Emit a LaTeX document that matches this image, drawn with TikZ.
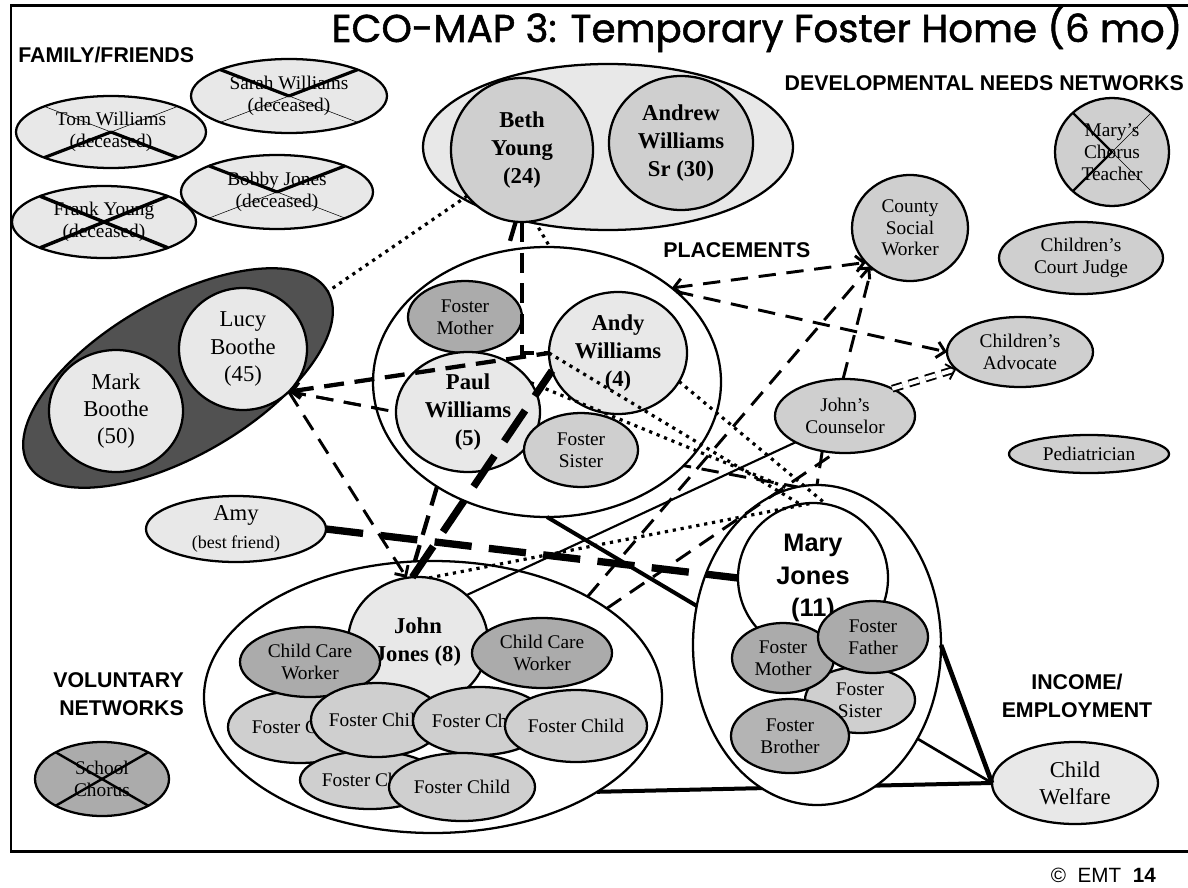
\documentclass[tikz,border=0pt]{standalone}
\usepackage{fontspec}
\usepackage{graphicx}
\setmainfont{Liberation Serif}
\newfontfamily\hdrfont{Liberation Sans}
\newfontfamily\ttlfont{Poppins}[FakeBold=1.3]
\usetikzlibrary{shapes.geometric,arrows.meta}
\pgfdeclarelayer{under}
\pgfsetlayers{under,main}

\definecolor{lite}{HTML}{E8E8E8}
\definecolor{mid}{HTML}{CFCFCF}
\definecolor{drk}{HTML}{ABABAB}
\definecolor{brn}{HTML}{B4B4B4}
\definecolor{vdk}{HTML}{515151}

% font sizes used in the map
\newcommand\fr{\fontsize{14.5}{16.3}\selectfont}
\newcommand\fR{\fontsize{17}{20.5}\selectfont}
\newcommand\fB{\bfseries\fontsize{17}{21}\selectfont}
\newcommand\fM{\hdrfont\bfseries\fontsize{19}{24.5}\selectfont}
\newcommand\fH{\hdrfont\bfseries\fontsize{16}{21.5}\selectfont}

\tikzset{
  eco/.style={ellipse, draw, line width=1.7pt, inner sep=0pt, outer sep=0pt},
  lab/.style={inner sep=0pt, align=center, text=black},
  hdr/.style={font=\fH, inner sep=0pt},
  dA/.style={line width=2.2pt, dash pattern=on 13pt off 8pt},
  dB/.style={line width=3.2pt, dash pattern=on 15pt off 8pt},
  dC/.style={line width=5.5pt, dash pattern=on 28pt off 13pt},
  dt/.style={line width=2.4pt, dash pattern=on 2.4pt off 3.6pt},
  sA/.style={line width=1.6pt},
  sB/.style={line width=3pt},
  >={Straight Barb[length=6pt,width=12pt]},
}

% \nd{name}{x}{y}{rx}{ry}{options}{font}{text}
\newcommand\nd[8]{\node[eco,minimum width=#4*1.5pt,minimum height=#5*1.5pt,#6,label={[lab,font=#7]center:#8}] (#1) at (#2,#3) {};}

% cross out a node: name, angle, widths of the upper-left, upper-right, lower-left, lower-right strokes
\newcommand\xout[6]{%
  \pgfmathtruncatemacro\aUL{180-#2}\pgfmathtruncatemacro\aLL{180+#2}%
  \draw[line width=#3] (#1.center) -- (#1.\aUL);
  \draw[line width=#4] (#1.center) -- (#1.#2);
  \draw[line width=#5] (#1.center) -- (#1.\aLL);
  \draw[line width=#6] (#1.center) -- (#1.-#2);
}

\begin{document}
\begin{tikzpicture}[x=0.75pt,y=-0.75pt]
\useasboundingbox (0,0) rectangle (1188,888);

% frame
\draw[line width=2.2pt] (1188,5.5) -- (11,5.5) -- (11,851.5) -- (1188,851.5);

% title and section headings
\node[anchor=base, inner sep=0pt] (ttl) at (757,42)
  {\resizebox{638pt}{!}{\ttlfont\fontsize{30}{30}\selectfont ECO-MAP 3: Temporary Foster Home (6 mo)}};
\node[hdr, anchor=west] (hfam) at (18,55) {FAMILY/FRIENDS};
\node[hdr, anchor=east] (hdev) at (1184,83) {DEVELOPMENTAL NEEDS NETWORKS};
\node[hdr, anchor=west] (hplc) at (663,250) {PLACEMENTS};
\node[hdr, align=right, anchor=east] (hvol) at (184,694) {VOLUNTARY\\NETWORKS};
\node[hdr, align=center] (hinc) at (1077,696) {INCOME/\\EMPLOYMENT};
\node[anchor=base east, inner sep=0pt] (foot) at (1156,882)
  {\hdrfont\fontsize{15.5}{15.5}\selectfont \copyright\ \ EMT\ \ \textbf{14}};

% family and friends
\nd{sarah}{289}{96}{98}{37}{fill=lite}{\fr}{Sarah Williams\\(deceased)}
\nd{tom}{111}{132}{95}{36}{fill=lite}{\fr}{Tom Williams\\(deceased)}
\nd{bobby}{277}{192}{96}{37}{fill=lite}{\fr}{Bobby Jones\\(deceased)}
\nd{frank}{104}{222}{92}{36}{fill=lite}{\fr}{Frank Young\\(deceased)}
\xout{sarah}{21}{2.4pt}{2.4pt}{0.4pt}{0.4pt}
\xout{tom}{21}{0.4pt}{0.4pt}{2.4pt}{2.4pt}
\xout{bobby}{21}{2.4pt}{2.4pt}{0.4pt}{0.4pt}
\xout{frank}{22}{2.6pt}{2.6pt}{2.6pt}{2.6pt}

% biological parents
\node[eco, fill=lite, minimum width=370*0.75pt, minimum height=166*0.75pt] (pgrp) at (608,147) {};
\nd{beth}{522}{150}{71}{72}{fill=mid}{\fB}{Beth\\Young\\(24)}
\nd{andrew}{681}{143}{72}{67}{fill=mid}{\fB}{Andrew\\Williams\\Sr (30)}

% grandparents
\node[eco, fill=vdk, rotate=30, minimum width=346*0.75pt, minimum height=156*0.75pt] (lgrp) at (178,378) {};
\nd{lucy}{243}{349}{64}{61}{fill=lite}{\fR}{Lucy\\Boothe\\(45)}
\nd{mark}{116}{411}{67}{61}{fill=lite}{\fR}{Mark\\Boothe\\(50)}

% placement of Paul and Andy
\node[eco, fill=white, minimum width=348*0.75pt, minimum height=270*0.75pt] (plc) at (547,382) {};
\nd{fmom}{465}{317}{57}{36}{fill=drk}{\fr}{Foster\\Mother}
\nd{paul}{468}{412}{72}{60}{fill=lite}{\fB}{Paul\\Williams\\(5)}
\nd{andy}{618}{353}{69}{61}{fill=lite}{\fB}{Andy\\Williams\\(4)}
\nd{fsis}{581}{450}{57}{37}{fill=mid}{\fr}{Foster\\Sister}

% developmental needs networks
\nd{csw}{910}{228}{58}{53}{fill=mid}{\fr}{County\\Social\\Worker}
\nd{mct}{1112}{152}{57}{54}{fill=mid}{\fr}{Mary’s\\Chorus\\Teacher}
\xout{mct}{45}{1.8pt}{0.4pt}{1.8pt}{0.4pt}
\nd{ccj}{1081}{258}{82}{36}{fill=mid}{\fr}{Children’s\\Court Judge}
\nd{ca}{1020}{352}{73}{35}{fill=mid}{\fr}{Children’s\\Advocate}
\nd{jc}{845}{416}{70}{37}{fill=mid}{\fr}{John’s\\Counselor}
\nd{ped}{1089}{454}{80}{19}{fill=mid}{\fr}{Pediatrician}

% friend
\nd{amy}{236}{529}{90}{33}{fill=lite}{\fR}{Amy\\{\fontsize{13.5}{15}\selectfont(best friend)}}

% group home of John
\node[eco, fill=white, minimum width=458*0.75pt, minimum height=272*0.75pt] (jgrp) at (433,697) {};
\nd{john}{418}{642}{70}{65}{fill=lite}{\fB}{John\\Jones (8)}
\nd{fca}{300}{727}{72}{36}{fill=mid}{\fr}{Foster Child}
\nd{fce}{370}{780}{70}{29}{fill=mid}{\fr}{Foster Child}
\nd{ccwa}{310}{662}{70}{35}{fill=drk}{\fr}{Child Care\\Worker}
\nd{ccwb}{542}{653}{70}{35}{fill=drk}{\fr}{Child Care\\Worker}
\nd{fcb}{377}{720}{66}{37}{fill=mid}{\fr}{Foster Child}
\nd{fcc}{480}{721}{67}{34}{fill=mid}{\fr}{Foster Child}
\nd{fcd}{576}{726}{71}{36}{fill=mid}{\fr}{Foster Child}
\nd{fcf}{462}{787}{73}{34}{fill=mid}{\fr}{Foster Child}

% placement of Mary
\node[eco, fill=white, minimum width=248*0.75pt, minimum height=320*0.75pt] (mgrp) at (817,645) {};
\nd{mary}{813}{578}{75}{75}{fill=white}{\fM}{Mary\\Jones\\(11)}
\nd{mfsis}{860}{700}{55}{33}{fill=mid}{\fr}{Foster\\Sister}
\nd{mfmom}{783}{658}{51}{35}{fill=drk}{\fr}{Foster\\Mother}
\nd{mfdad}{873}{637}{55}{36}{fill=drk}{\fr}{Foster\\Father}
\nd{mfbro}{790}{736}{59}{37}{fill=brn}{\fr}{Foster\\Brother}

% income and voluntary networks
\nd{cw}{1075}{783}{83}{41}{fill=lite}{\fR}{Child\\Welfare}
\nd{sch}{102}{779}{67}{37}{fill=drk}{\fr}{School\\Chorus}
\xout{sch}{30}{1.8pt}{1.8pt}{1.8pt}{1.8pt}

% connections that run beneath the circles
\begin{pgfonlayer}{under}
  \draw[dA] (lucy.-43) -- (mgrp.97);
  \draw[sB] (jgrp.-30) -- (cw.west);
  \draw[dt] (beth.-80) -- (andy.125);
  \draw[dB] (beth.-95) -- (john.97);
\end{pgfonlayer}

% connections
\draw[dt] (beth.220) -- (lgrp.east);
\draw[dB] (beth.south) |- (andy.west);
\draw[dC] (john.95) -- (andy.195);
\draw[dA, ->] (lucy.-43) -- (john.100);
\draw[dB, <-] (lucy.-43) -- (andy.west);
\draw[dA] (lucy.-43) -- (paul.west);
\draw[dC] (amy.east) -- (mary.west);
\draw[sB] (plc.south) -- (mgrp.162);
\draw[sA] (john.44) -- (jc.208);
\draw[dA, ->] (jgrp.33) -- (csw.224);
\draw[dA] (jgrp.27) -- (jc.255);
\draw[dA] (jc.237) -- (mgrp.north);
\draw[dA] (jc.93) -- (csw.226);
\draw[dA, <->] (plc.37) -- (csw.218);
\draw[dA, ->] (plc.35) -- (ca.west);
\draw[line width=1.4pt, double, double distance=3pt, dash pattern=on 8pt off 5pt, ->] (jc.30) -- (ca.195);
\draw[line width=3.5pt] (mgrp.east) -- (cw.west);
\draw[line width=2pt] (mgrp.-43) -- (cw.west);
\draw[dt] (john.80) -- (mary.north);
\draw[dt] (andy.west) -- (mary.100);
\draw[dt] (andy.-25) -- (mary.80);
\draw[dt] (paul.25) -- (mgrp.100);
\end{tikzpicture}
\end{document}
